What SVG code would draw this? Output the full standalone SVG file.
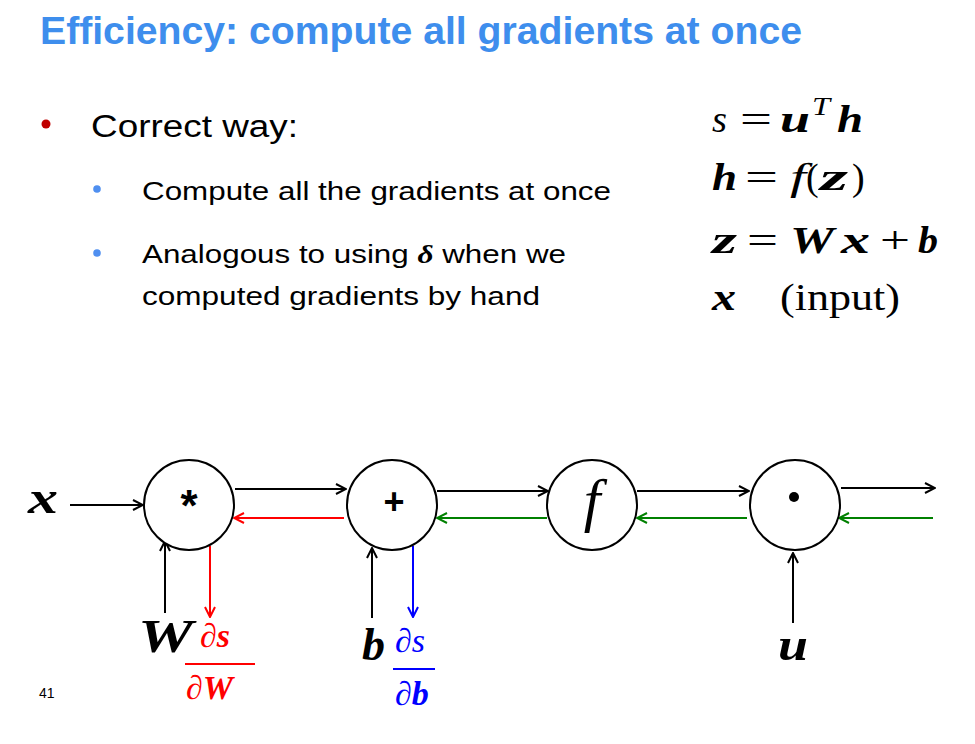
<svg xmlns="http://www.w3.org/2000/svg" width="975" height="744" viewBox="0 0 975 744">
<defs>
<marker id="ak" viewBox="0 0 12 12" refX="11" refY="6" markerWidth="12" markerHeight="12" markerUnits="userSpaceOnUse" orient="auto"><path d="M1,1 L11,6 L1,11" fill="none" stroke="#000" stroke-width="2"/></marker>
<marker id="ar" viewBox="0 0 12 12" refX="11" refY="6" markerWidth="12" markerHeight="12" markerUnits="userSpaceOnUse" orient="auto"><path d="M1,1 L11,6 L1,11" fill="none" stroke="#FF0000" stroke-width="2"/></marker>
<marker id="ag" viewBox="0 0 12 12" refX="11" refY="6" markerWidth="12" markerHeight="12" markerUnits="userSpaceOnUse" orient="auto"><path d="M1,1 L11,6 L1,11" fill="none" stroke="#008000" stroke-width="2"/></marker>
<marker id="ab" viewBox="0 0 12 12" refX="11" refY="6" markerWidth="12" markerHeight="12" markerUnits="userSpaceOnUse" orient="auto"><path d="M1,1 L11,6 L1,11" fill="none" stroke="#0000FF" stroke-width="2"/></marker>
</defs>
<style>
.sans{font-family:"Liberation Sans","Open Sans",sans-serif}
.serif{font-family:"Liberation Serif","DejaVu Serif",serif}
.bi{font-family:"Liberation Serif","DejaVu Serif",serif;font-weight:bold;font-style:italic}
.it{font-family:"Liberation Serif","DejaVu Serif",serif;font-style:italic}
.node{fill:#fff;stroke:#000;stroke-width:2}
.fk{stroke:#000;stroke-width:2;fill:none;marker-end:url(#ak)}
.fr{stroke:#FF0000;stroke-width:2;fill:none;marker-end:url(#ar)}
.fg{stroke:#008000;stroke-width:2;fill:none;marker-end:url(#ag)}
.fb{stroke:#0000FF;stroke-width:2;fill:none;marker-end:url(#ab)}
</style>
<rect width="975" height="744" fill="#fff"/>
<text x="40" y="44" class="sans" font-size="38" font-weight="bold" fill="#3E8EED" textLength="762" lengthAdjust="spacingAndGlyphs">Efficiency: compute all gradients at once</text>
<circle cx="46" cy="124" r="4.5" fill="#C00000"/>
<text x="91" y="137" class="sans" font-size="31" textLength="207" lengthAdjust="spacingAndGlyphs">Correct way:</text>
<circle cx="97" cy="189" r="3.8" fill="#4F8FF0"/>
<text x="142" y="200" class="sans" font-size="26" textLength="469" lengthAdjust="spacingAndGlyphs">Compute all the gradients at once</text>
<circle cx="97" cy="253" r="3.8" fill="#4F8FF0"/>
<text x="142" y="263" class="sans" font-size="26" textLength="424" lengthAdjust="spacingAndGlyphs">Analogous to using <tspan class="bi">δ</tspan> when we</text>
<text x="142" y="305" class="sans" font-size="26" textLength="398" lengthAdjust="spacingAndGlyphs">computed gradients by hand</text>
<g id="equations" font-size="38">
<text x="712" y="132" class="it" textLength="15" lengthAdjust="spacingAndGlyphs">s</text>
<text x="740" y="132" class="serif" textLength="32" lengthAdjust="spacingAndGlyphs">=</text>
<text x="780" y="132" class="bi" textLength="30" lengthAdjust="spacingAndGlyphs">u</text>
<text x="812" y="115" class="it" font-size="26" textLength="18" lengthAdjust="spacingAndGlyphs">T</text>
<text x="837" y="132" class="bi" textLength="26" lengthAdjust="spacingAndGlyphs">h</text>
<text x="712" y="190" class="bi" textLength="25" lengthAdjust="spacingAndGlyphs">h</text>
<text x="745" y="190" class="serif" textLength="33" lengthAdjust="spacingAndGlyphs">=</text>
<text x="790" y="190" class="it" textLength="16" lengthAdjust="spacingAndGlyphs">f</text>
<text x="806" y="190" class="serif">(</text>
<text x="820" y="190" class="bi" textLength="28" lengthAdjust="spacingAndGlyphs">z</text>
<text x="852" y="190" class="serif">)</text>
<text x="712" y="253" class="bi" textLength="25" lengthAdjust="spacingAndGlyphs">z</text>
<text x="747" y="253" class="serif" textLength="31" lengthAdjust="spacingAndGlyphs">=</text>
<text x="790" y="253" class="bi" textLength="44" lengthAdjust="spacingAndGlyphs">W</text>
<text x="841" y="253" class="bi" textLength="29" lengthAdjust="spacingAndGlyphs">x</text>
<text x="880" y="253" class="serif" textLength="30" lengthAdjust="spacingAndGlyphs">+</text>
<text x="918" y="253" class="bi" textLength="20" lengthAdjust="spacingAndGlyphs">b</text>
<text x="712" y="310" class="bi" textLength="24" lengthAdjust="spacingAndGlyphs">x</text>
<text x="780" y="310" class="serif" textLength="120" lengthAdjust="spacingAndGlyphs">(input)</text>
</g>
<g id="connectors">
<line x1="70" y1="505" x2="143" y2="505" class="fk"/>
<line x1="235" y1="489" x2="346" y2="489" class="fk"/>
<line x1="344" y1="518" x2="234" y2="518" class="fr"/>
<line x1="437" y1="491" x2="548" y2="491" class="fk"/>
<line x1="547" y1="518" x2="437" y2="518" class="fg"/>
<line x1="637" y1="491" x2="749" y2="491" class="fk"/>
<line x1="747" y1="518" x2="637" y2="518" class="fg"/>
<line x1="841" y1="488" x2="935" y2="488" class="fk"/>
<line x1="933" y1="518" x2="839" y2="518" class="fg"/>
<line x1="165" y1="613" x2="165" y2="541" class="fk"/>
<line x1="210" y1="546" x2="210" y2="617" class="fr"/>
<line x1="372" y1="618" x2="372" y2="548" class="fk"/>
<line x1="413" y1="546" x2="413" y2="617" class="fb"/>
<line x1="793" y1="623" x2="793" y2="553" class="fk"/>
</g>
<g id="node-mul"><circle cx="189" cy="505" r="45" class="node"/><text x="189" y="521" class="sans" font-size="44" font-weight="bold" text-anchor="middle">*</text></g>
<g id="node-add"><circle cx="392" cy="505" r="45" class="node"/><text x="394" y="514" class="sans" font-size="36" font-weight="bold" text-anchor="middle">+</text></g>
<g id="node-f"><circle cx="592" cy="505" r="45" class="node"/><text x="592" y="520" class="it" font-size="60" text-anchor="middle">f</text></g>
<g id="node-dot"><circle cx="795" cy="505" r="45" class="node"/><circle cx="794" cy="497" r="5" fill="#000"/></g>
<g id="label-x"><text x="28" y="513" class="bi" font-size="46" textLength="30" lengthAdjust="spacingAndGlyphs">x</text></g>
<g id="label-W"><text x="138" y="652" class="bi" font-size="46" textLength="55" lengthAdjust="spacingAndGlyphs">W</text></g>
<g id="label-b"><text x="362" y="660" class="bi" font-size="46" textLength="23" lengthAdjust="spacingAndGlyphs">b</text></g>
<g id="label-u"><text x="778" y="660" class="bi" font-size="46" textLength="30" lengthAdjust="spacingAndGlyphs">u</text></g>
<g id="grad-W" fill="#FF0000">
<text x="200" y="647" class="serif" font-size="34"><tspan class="it">∂</tspan><tspan class="bi">s</tspan></text>
<line x1="185" y1="664" x2="255" y2="664" stroke="#FF0000" stroke-width="2"/>
<text x="186" y="699" class="serif" font-size="34"><tspan class="it">∂</tspan><tspan class="bi">W</tspan></text>
</g>
<g id="grad-b" fill="#0000FF">
<text x="395" y="652" class="it" font-size="34">∂s</text>
<line x1="393" y1="669" x2="435" y2="669" stroke="#0000FF" stroke-width="2"/>
<text x="395" y="705" class="serif" font-size="34"><tspan class="it">∂</tspan><tspan class="bi">b</tspan></text>
</g>
<text x="39" y="698" class="sans" font-size="14">41</text>
</svg>
